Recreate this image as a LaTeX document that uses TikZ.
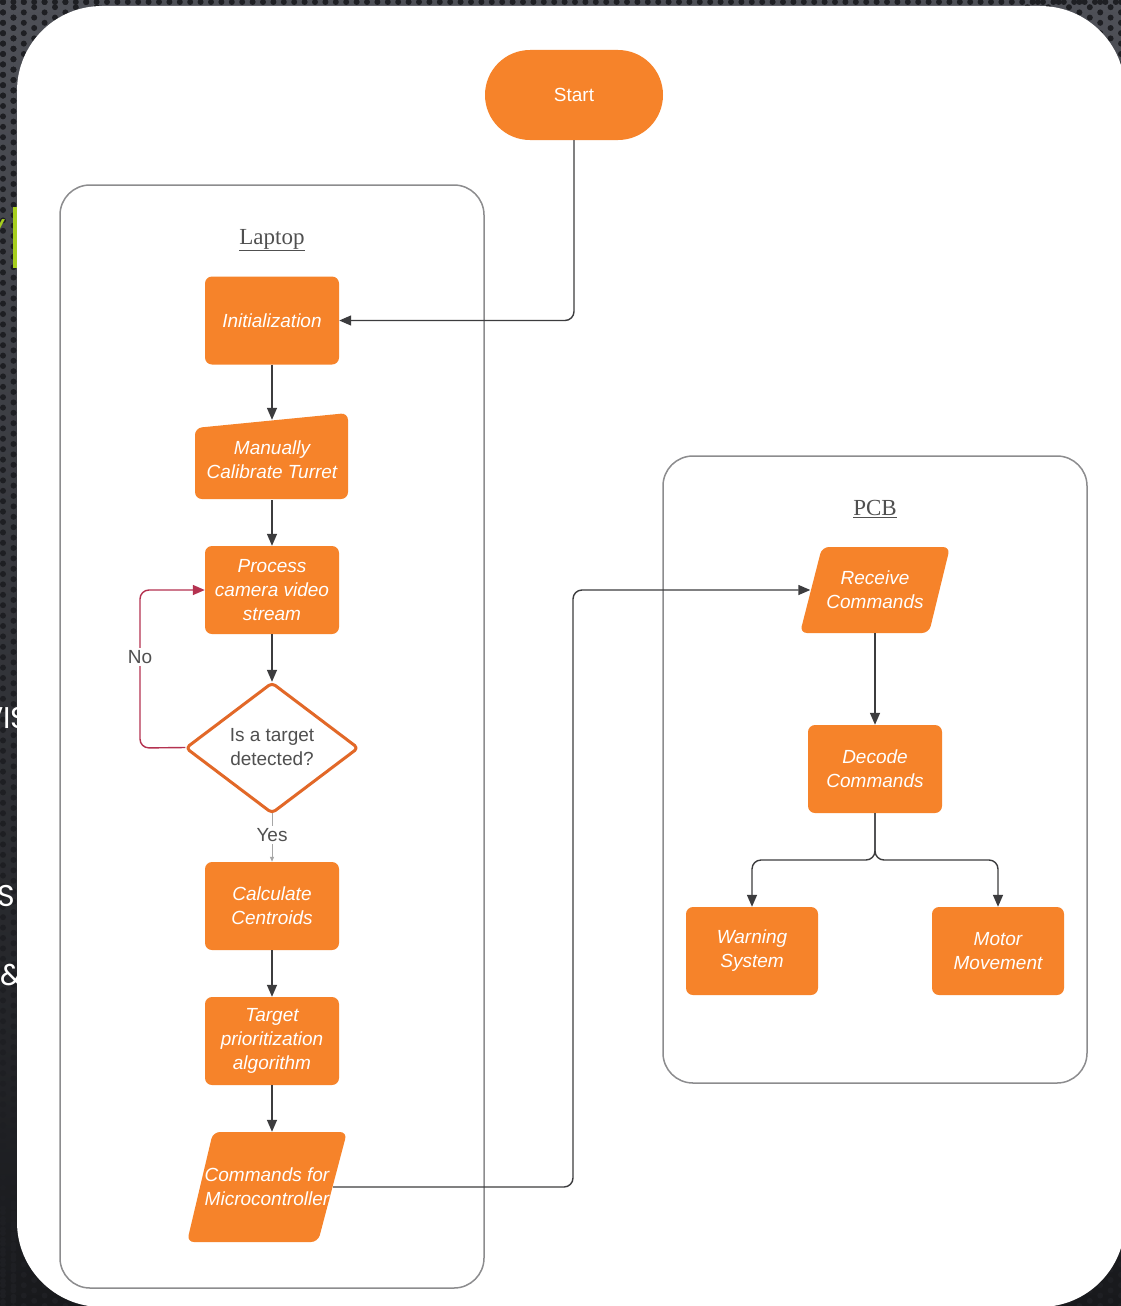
\documentclass[tikz,border=0pt]{standalone}
\usepackage{fontspec}
\setmainfont{Liberation Sans}
\newfontfamily\serifc{Liberation Serif}
\newfontfamily\slidefont{Poppins}
\usetikzlibrary{arrows.meta,calc}
\definecolor{orng}{RGB}{246,131,42}
\definecolor{orngdk}{RGB}{226,104,40}
\definecolor{conncol}{RGB}{60,60,62}
\definecolor{nocol}{RGB}{180,50,80}
\definecolor{boxc}{RGB}{140,140,142}
\definecolor{lbl}{RGB}{80,80,80}
\definecolor{slidetop}{RGB}{78,80,87}
\definecolor{slidebot}{RGB}{24,25,28}
\definecolor{dotc}{RGB}{30,31,35}
\definecolor{limeg}{RGB}{166,206,30}
\begin{document}
\begin{tikzpicture}[x=1pt,y=-1pt,
  boxtxt/.style={text=white,font=\fontsize{19}{24}\selectfont\itshape,align=center,inner sep=0pt},
  procbox/.style={boxtxt,fill=orng,rounded corners=7pt,minimum width=134pt,minimum height=88pt},
  ghost/.style={boxtxt,draw=none,fill=none},
  link/.style={draw=conncol,line width=1.4pt,rounded corners=9pt,-{Triangle[length=12pt,width=10pt]}},
  nolink/.style={link,draw=nocol,-{Triangle[length=12pt,width=10pt,color=nocol]}},
  container/.style={draw=boxc,line width=1.5pt,rounded corners=30pt},
  lanelbl/.style={font=\serifc\fontsize{23}{23}\selectfont,text=lbl},
  edgelbl/.style={font=\fontsize{19}{19}\selectfont,text=lbl,fill=white,inner sep=2pt},
  slidetxt/.style={font=\slidefont\fontsize{30}{30}\selectfont,text=white,inner sep=0pt}
]
\useasboundingbox (0,0) rectangle (1121,1306);
% slide background
\shade[top color=slidetop,bottom color=slidebot] (0,0) rectangle (1121,1306);
\foreach \j in {0,...,126}{
  \fill[dotc] (3pt,{\j*10.4+2}) circle (3pt);
  \fill[dotc] (13.5pt,{\j*10.4+7.2}) circle (3pt);}
\foreach \i in {0,...,108}{
  \fill[dotc] ({\i*10.4+3},2) circle (3pt);}
\foreach \i in {0,...,9}{\foreach \j in {0,...,9}{
  \fill[dotc] ({\i*10.4+3},{\j*10.4+2+mod(\i,2)*5.2}) circle (3pt);
  \fill[dotc] ({1121-\i*10.4},{\j*10.4+2+mod(\i,2)*5.2}) circle (3pt);
  \fill[dotc] ({\i*10.4+3},{1306-\j*10.4-mod(\i,2)*5.2}) circle (3pt);
  \fill[dotc] ({1121-\i*10.4},{1306-\j*10.4-mod(\i,2)*5.2}) circle (3pt);}}
% slide text fragments (partly hidden behind the white panel)
\node[slidetxt,text=limeg,anchor=base east] (sy) at (6,240) {Y};
\fill[limeg] (13,207) rectangle (17,268);
\node[slidetxt,anchor=base west] (svis) at (-17,728) {VIS};
\node[slidetxt,anchor=base east] (ss) at (15,906) {S};
\node[slidetxt,anchor=base east] (sand) at (23,985) {\&};
% white panel
\fill[white,rounded corners=85pt] (17,6) rectangle (1125,1307);
% containers
\draw[container] (60,185) rectangle (484,1288);
\draw[container] (663,456) rectangle (1087,1083);
\node[lanelbl] (laptoplbl) at (272,240) {\underline{Laptop}};
\node[lanelbl] (pcblbl) at (875,509) {\underline{PCB}};
% start
\node[procbox,minimum width=178pt,minimum height=90pt,rounded corners=45pt,font=\fontsize{19}{24}\selectfont] (start) at (574,95) {Start};
% laptop flow
\node[procbox] (init) at (272,320.5) {Initialization};
\fill[orng,rounded corners=7pt] (195,428) -- (348,413) -- (348,499) -- (195,499) -- cycle;
\node[ghost,minimum width=153pt,minimum height=80pt] (manual) at (272,460) {Manually\\Calibrate Turret};
\node[procbox] (procn) at (272,590) {Process\\camera video\\stream};
\filldraw[fill=white,draw=orngdk,line width=3pt,rounded corners=4pt,line join=round] (272,683) -- (358,748) -- (272,813) -- (186,748) -- cycle;
\node[draw=none,minimum width=173pt,minimum height=131pt,inner sep=0pt,align=center,text=lbl,font=\fontsize{19}{24}\selectfont] (dec) at (272,747.5) {Is a target\\detected?};
\node[procbox] (calc) at (272,906) {Calculate\\Centroids};
\node[procbox] (target) at (272,1041) {Target\\prioritization\\algorithm};
\fill[orng,rounded corners=7pt] (213,1132) -- (347,1132) -- (318,1242) -- (187,1242) -- cycle;
\node[ghost,minimum width=132pt,minimum height=110pt] (cmd) at (267,1187) {Commands for\\Microcontroller};
% pcb flow
\fill[orng,rounded corners=7pt] (822,547) -- (950,547) -- (929,633) -- (800,633) -- cycle;
\node[ghost,minimum width=129pt,minimum height=86pt] (recv) at (875,590) {Receive\\Commands};
\node[procbox] (decode) at (875,769) {Decode\\Commands};
\node[procbox,minimum width=132pt] (warn) at (752,951) {Warning\\System};
\node[procbox,minimum width=132pt] (motor) at (998,951) {Motor\\Movement};
% connectors
\draw[link] (start.south) |- (init.east);
\draw[link] (init.south) -- (manual.north);
\draw[link] (manual.south) -- (procn.north);
\draw[link] (procn.south) -- (dec.north);
\coordinate (noturn) at (140,748);
\draw[nolink] (dec.west) -- (noturn) |- (procn.west);
\node[edgelbl] (nolbl) at (140,657) {No};
\draw[draw=gray!70,line width=1pt,-{Triangle[length=5pt,width=4pt]}] (dec.south) -- (calc.north);
\node[edgelbl] (yeslbl) at (272,835) {Yes};
\draw[link] (calc.south) -- (target.north);
\draw[link] (target.south) -- (target.south |- cmd.north);
\coordinate (jog) at (573,590);
\draw[link] (cmd.east) -| (jog) -- (recv.west);
\draw[link] (recv.south) -- (decode.north);
\coordinate (split) at (875,860);
\draw[link] (decode.south) -- (split) -| (warn.north);
\draw[link] (decode.south) -- (split) -| (motor.north);
\end{tikzpicture}
\end{document}
